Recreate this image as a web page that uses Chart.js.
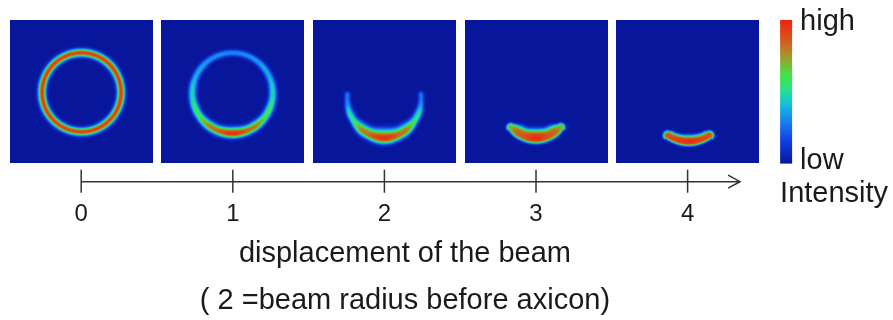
<!DOCTYPE html>
<html><head><meta charset="utf-8">
<script src="https://cdn.jsdelivr.net/npm/chart.js@4.4.1/dist/chart.umd.min.js"></script>
<style>html,body{margin:0;padding:0;background:#fff;}#wrap{width:893px;height:320px;}</style>
</head><body><div id="wrap"><canvas id="c" width="893" height="320"></canvas></div>
<script>
// ---- data ----
const displacement = [0, 1, 2, 3, 4];
const tickLabels = ['0', '1', '2', '3', '4'];
const axisTitle = ['displacement of the beam', '( 2 =beam radius before axicon)'];
const colorbarHigh = 'high';
const colorbarLow = 'low';
const colorbarTitle = 'Intensity';

// ring geometry inside each 143x143 intensity map (map pixels)
const ringCenterX = [71.8, 71.3, 71.3, 71.3, 72.5];
const ringCenterY = [72.0, 72.8, 78.0, 84.7, 83.6];
const arcHalfAngle = [180, 180, 96, 48, 33.5];      // degrees measured from the bottom
const profileSharpness = [2.2, 2.4, 2.4, 3.5, 3.5]; // radial profile exponent

// angular profiles (angle from the bottom, degrees)
const profileAngles = [0, 30, 60, 90, 120, 150, 180];
const ringRadius = [
  [39.5, 39.5, 39.5, 39.5, 39.5, 39.5, 39.5],
  [40.3, 40.3, 40.3, 40.3, 40.3, 40.3, 40.3],
  [40.0, 39.2, 38.0, 37.0, 37.0, 37.0, 37.0],
  [33.6, 33.6, 33.6, 33.6, 33.6, 33.6, 33.6],
  [37.8, 37.8, 37.8, 37.8, 37.8, 37.8, 37.8]
];
const peakIntensity = [
  [0.93, 0.93, 0.93, 0.93, 0.93, 0.93, 0.93],
  [0.97, 0.82, 0.60, 0.47, 0.38, 0.33, 0.31],
  [0.97, 0.82, 0.52, 0.28, 0.10, 0.00, 0.00],
  [0.97, 0.86, 0.64, 0.40, 0.00, 0.00, 0.00],
  [0.97, 0.90, 0.80, 0.50, 0.00, 0.00, 0.00]
];
const innerWidth = [
  [3.8, 3.8, 3.8, 3.8, 3.8, 3.8, 3.8],
  [5.8, 5.0, 4.3, 4.0, 3.6, 3.3, 3.2],
  [8.5, 6.8, 4.4, 3.0, 2.8, 2.8, 2.8],
  [9.2, 8.2, 4.0, 3.2, 3.2, 3.2, 3.2],
  [6.3, 5.5, 3.4, 3.2, 3.2, 3.2, 3.2]
];
const outerWidth = [
  [3.8, 3.8, 3.8, 3.8, 3.8, 3.8, 3.8],
  [4.6, 4.3, 3.9, 3.8, 3.5, 3.2, 3.1],
  [5.4, 4.6, 3.3, 2.8, 2.8, 2.8, 2.8],
  [5.0, 4.6, 3.0, 3.0, 3.0, 3.0, 3.0],
  [4.3, 3.9, 3.2, 3.0, 3.0, 3.0, 3.0]
];

// colour map (intensity -> rgb), as in the colour bar
const cmapStops = [0, 0.15, 0.30, 0.42, 0.52, 0.62, 0.75, 0.87, 1];
const cmapColors = [[8,22,155],[16,60,225],[24,130,240],[20,195,215],[40,228,130],[70,225,70],[165,150,40],[215,85,25],[238,35,15]];

// ---- helpers ----
const FONT = '"Liberation Sans", Arial, Helvetica, sans-serif';
const MAP = 143;
const arrowEnd = 4.346;

function interp(arr, a) {
  if (a <= profileAngles[0]) return arr[0];
  for (let k = 1; k < profileAngles.length; k++) {
    if (a <= profileAngles[k]) {
      let t = (a - profileAngles[k-1]) / (profileAngles[k] - profileAngles[k-1]);
      t = t * t * (3 - 2 * t);
      return arr[k-1] + (arr[k] - arr[k-1]) * t;
    }
  }
  return arr[arr.length - 1];
}
function cmap(v) {
  v = Math.max(0, Math.min(1, v));
  for (let k = 1; k < cmapStops.length; k++) {
    if (v <= cmapStops[k]) {
      const t = (v - cmapStops[k-1]) / (cmapStops[k] - cmapStops[k-1]);
      const a = cmapColors[k-1], b = cmapColors[k];
      return [a[0]+(b[0]-a[0])*t, a[1]+(b[1]-a[1])*t, a[2]+(b[2]-a[2])*t];
    }
  }
  return cmapColors[cmapColors.length-1];
}
function renderMap(i) {
  const cv = document.createElement('canvas');
  cv.width = MAP; cv.height = MAP;
  const g = cv.getContext('2d');
  const img = g.createImageData(MAP, MAP);
  const cx = ringCenterX[i], cy = ringCenterY[i];
  const h = arcHalfAngle[i];
  const hr = h * Math.PI / 180;
  const p = profileSharpness[i];
  const Rh = interp(ringRadius[i], h);
  for (let py = 0; py < MAP; py++) {
    for (let px = 0; px < MAP; px++) {
      const dx = px + 0.5 - cx, dy = py + 0.5 - cy;
      const r = Math.hypot(dx, dy);
      const phi = Math.abs(Math.atan2(dx, dy)) * 180 / Math.PI;
      let A, d, w;
      if (phi <= h) {
        A = interp(peakIntensity[i], phi);
        d = r - interp(ringRadius[i], phi);
        w = d < 0 ? interp(innerWidth[i], phi) : interp(outerWidth[i], phi);
      } else {
        const tx = cx + Math.sign(dx) * Rh * Math.sin(hr), ty = cy + Rh * Math.cos(hr);
        d = Math.hypot(px + 0.5 - tx, py + 0.5 - ty);
        A = interp(peakIntensity[i], h);
        w = 0.5 * (interp(innerWidth[i], h) + interp(outerWidth[i], h));
      }
      const v = A * Math.exp(-Math.pow(Math.abs(d) / w, p));
      const c = cmap(v);
      const o = (py * MAP + px) * 4;
      img.data[o] = c[0]; img.data[o+1] = c[1]; img.data[o+2] = c[2]; img.data[o+3] = 255;
    }
  }
  g.putImageData(img, 0, 0);
  return cv;
}
const maps = displacement.map((_, i) => renderMap(i));

const decorPlugin = {
  id: 'decor',
  afterDraw(chart) {
    const { ctx, scales: { x, y } } = chart;
    const ya = y.getPixelForValue(y.min) - 1;
    ctx.save();
    ctx.strokeStyle = '#333';
    ctx.lineWidth = 1.5;
    ctx.beginPath();
    const x0 = x.getPixelForValue(displacement[0]);
    const x1 = x.getPixelForValue(arrowEnd);
    ctx.moveTo(x0, ya); ctx.lineTo(x1, ya);
    ctx.moveTo(x1 - 12, ya - 6.5); ctx.lineTo(x1, ya); ctx.lineTo(x1 - 12, ya + 6.5);
    displacement.forEach(v => {
      const px = x.getPixelForValue(v);
      ctx.moveTo(px, ya - 12); ctx.lineTo(px, ya + 11);
    });
    ctx.stroke();

    // colour bar
    const top = y.getPixelForValue(1), bot = y.getPixelForValue(0);
    const left = x.getPixelForValue(displacement[displacement.length-1]) + MAP / 2 + 21;
    const grad = ctx.createLinearGradient(0, bot, 0, top);
    cmapStops.forEach((s, k) => grad.addColorStop(s, `rgb(${cmapColors[k].join(',')})`));
    ctx.fillStyle = grad;
    ctx.fillRect(left, top, 12, bot - top);

    ctx.fillStyle = '#1a1a1a';
    ctx.font = `29px ${FONT}`;
    ctx.textBaseline = 'alphabetic';
    ctx.textAlign = 'left';
    ctx.fillText(colorbarHigh, left + 20, top + 10);
    ctx.fillText(colorbarLow, left + 20, bot + 5.5);
    ctx.fillText(colorbarTitle, left, bot + 38.5);
    ctx.restore();
  }
};

new Chart(document.getElementById('c'), {
  type: 'scatter',
  data: {
    datasets: [{
      data: displacement.map(v => ({ x: v, y: 0.5 })),
      pointStyle: maps,
      pointRadius: 1,
      pointHoverRadius: 1,
      borderWidth: 0
    }]
  },
  options: {
    responsive: false,
    animation: false,
    devicePixelRatio: 1,
    events: [],
    layout: { padding: { left: 5.4, right: 88.5, top: 20, bottom: 0 } },
    plugins: { legend: { display: false }, tooltip: { enabled: false } },
    scales: {
      x: {
        type: 'linear',
        min: -0.5,
        max: 4.771,
        afterBuildTicks: s => { s.ticks = displacement.map(v => ({ value: v })); },
        grid: { display: false, drawTicks: false },
        border: { display: false },
        ticks: {
          padding: 17,
          color: '#1a1a1a',
          font: { family: FONT, size: 24 },
          autoSkip: false,
          maxRotation: 0,
          callback: (v) => tickLabels[displacement.indexOf(v)]
        },
        title: {
          display: true,
          text: axisTitle,
          color: '#1a1a1a',
          font: { family: FONT, size: 29, lineHeight: '47px' },
          padding: { top: -15, bottom: -4.5 }
        }
      },
      y: { display: false, min: -0.133, max: 1 }
    }
  },
  plugins: [decorPlugin]
});
</script></body></html>
